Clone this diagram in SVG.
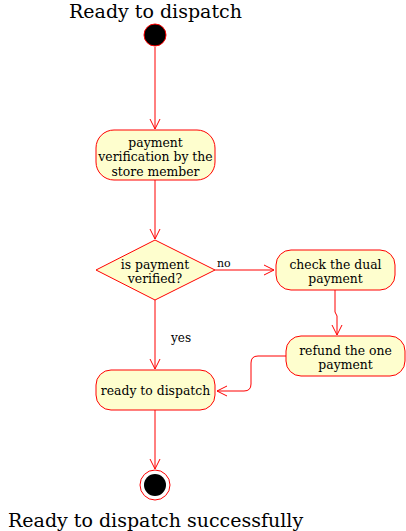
<svg xmlns="http://www.w3.org/2000/svg" width="406" height="531" viewBox="0 0 406 531">
<style>
.node{fill:#FEFECE;stroke:#FF0000;stroke-width:1}
.t{font-family:"DejaVu Serif",serif;font-size:12.4px;fill:#000;text-anchor:middle}
.lbl{font-family:"DejaVu Serif",serif;font-size:11px;fill:#000}
.big{font-family:"DejaVu Serif",serif;font-size:19px;fill:#000}
.edge{fill:none;stroke:#FF0000;stroke-width:1}
</style>
<defs>
<marker id="arr" markerWidth="12" markerHeight="12" refX="10" refY="5" orient="auto" markerUnits="userSpaceOnUse" viewBox="0 0 12 10">
<path d="M0,0 L10,5 L0,10" fill="none" stroke="#FF0000" stroke-width="1"/>
</marker>
</defs>
<text class="big" x="69" y="18">Ready to dispatch</text>
<g id="connectors">
<path class="edge" d="M155,47 L155,129" marker-end="url(#arr)"/>
<path class="edge" d="M155,180 L155,239" marker-end="url(#arr)"/>
<path class="edge" d="M215,270 L274,270" marker-end="url(#arr)"/>
<path class="edge" d="M335,290 L335,312 L337,316 L337,335" marker-end="url(#arr)"/>
<path class="edge" d="M286,356 L258,356 Q251,356 251,363 L251,384 Q251,391 244,391 L217,391" marker-end="url(#arr)"/>
<path class="edge" d="M155,300 L155,369" marker-end="url(#arr)"/>
<path class="edge" d="M155,410 L155,469" marker-end="url(#arr)"/>
<text class="lbl" x="217" y="267">no</text>
<text class="lbl" x="171" y="342" style="font-size:12px">yes</text>
</g>
<g id="start"><circle cx="155" cy="35" r="11" fill="#000" stroke="#FF0000" stroke-width="1"/></g>
<g id="verify">
<rect class="node" x="96" y="130" width="119" height="50" rx="18"/>
<text class="t" x="155.5" y="147">payment</text>
<text class="t" x="155.5" y="161">verification by the</text>
<text class="t" x="155.5" y="176">store member</text>
</g>
<g id="decision">
<polygon class="node" points="155,240 215,270 155,300 96,270"/>
<text class="t" x="155" y="269">is payment</text>
<text class="t" x="155" y="283">verified?</text>
</g>
<g id="check">
<rect class="node" x="276" y="250" width="119" height="40" rx="15"/>
<text class="t" x="335.5" y="269">check the dual</text>
<text class="t" x="335.5" y="283">payment</text>
</g>
<g id="refund">
<rect class="node" x="286" y="336" width="119" height="40" rx="15"/>
<text class="t" x="345.5" y="355">refund the one</text>
<text class="t" x="345.5" y="369">payment</text>
</g>
<g id="ready">
<rect class="node" x="96" y="370" width="119" height="40" rx="15"/>
<text class="t" x="155.5" y="395">ready to dispatch</text>
</g>
<g id="end">
<circle cx="155" cy="485" r="15" fill="none" stroke="#FF0000" stroke-width="1"/>
<circle cx="155" cy="485" r="11" fill="#000"/>
</g>
<text class="big" x="8" y="527">Ready to dispatch successfully</text>
</svg>
